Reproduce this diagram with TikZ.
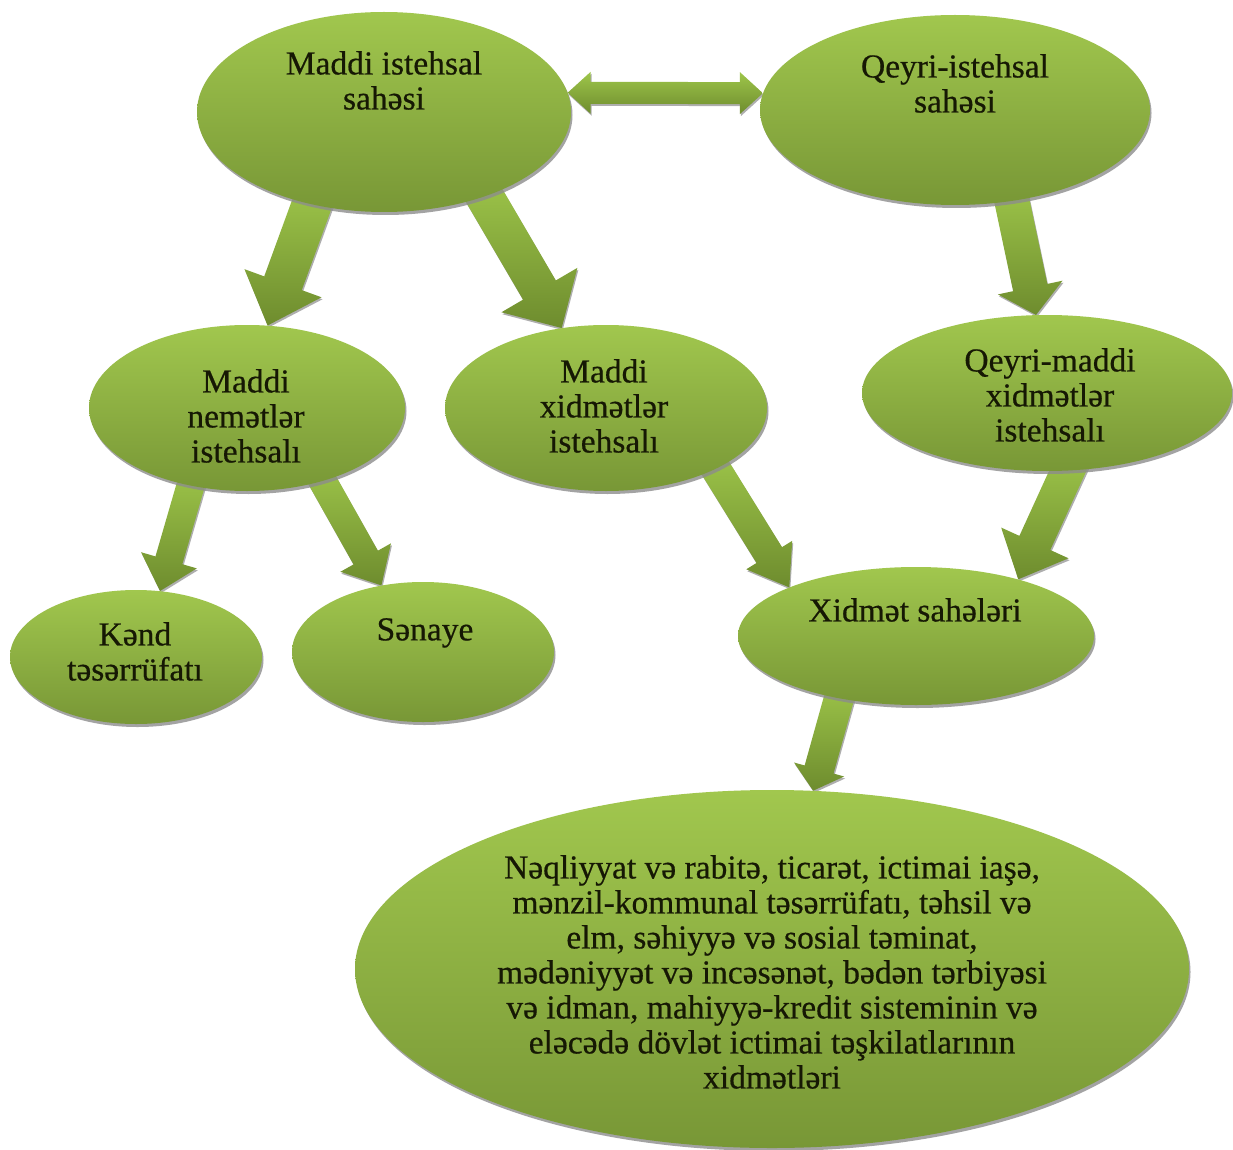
\documentclass[tikz,border=0pt]{standalone}
\usepackage{fontspec}
\setmainfont[FakeBold=0.5]{Liberation Serif}
\newfontfamily\lblfont[FakeBold=0.5]{Liberation Serif}
\usetikzlibrary{shapes.geometric,calc,shadows,backgrounds}
\definecolor{gtop}{RGB}{161,199,78}
\definecolor{gbot}{RGB}{120,151,54}
\definecolor{atop}{RGB}{158,198,74}
\definecolor{abot}{RGB}{110,140,46}
\definecolor{shd}{RGB}{140,140,140}
\definecolor{txtc}{RGB}{22,24,4}
\tikzset{
  ell/.style={ellipse, inner sep=0pt, draw=none, top color=gtop, bottom color=gbot,
    drop shadow={shadow xshift=1.5pt, shadow yshift=-3pt, fill=shd, opacity=0.8}},
  lbl/.style={anchor=north, align=center, inner sep=0pt,
    font=\lblfont\fontsize{33.5}{35}\selectfont, text=txtc},
  arr/.style={top color=atop, bottom color=abot,
    drop shadow={shadow xshift=1pt, shadow yshift=-2pt, fill=shd, opacity=0.7}},
}
% block arrow: #1 from, #2 to, #3 half shaft, #4 half head, #5 head length
\newcommand\barrow[5]{%
  \coordinate (ba-s) at ($(#1)!-15pt!(#2)$);
  \coordinate (ba-t) at (#2);
  \coordinate (ba-c) at ($(ba-t)!#5!(ba-s)$);
  \path[arr] ($(ba-s)!#3!90:(ba-t)$) -- ($(ba-c)!#3!90:(ba-t)$) -- ($(ba-c)!#4!90:(ba-t)$)
    -- (ba-t) -- ($(ba-c)!#4!-90:(ba-t)$) -- ($(ba-c)!#3!-90:(ba-t)$) -- ($(ba-s)!#3!-90:(ba-t)$) -- cycle;
}
% double block arrow
\newcommand\dbarrow[5]{%
  \coordinate (da-a) at (#1);
  \coordinate (da-b) at (#2);
  \coordinate (da-c) at ($(da-a)!#5!(da-b)$);
  \coordinate (da-d) at ($(da-b)!#5!(da-a)$);
  \path[arr] (da-a) -- ($(da-c)!#4!90:(da-b)$) -- ($(da-c)!#3!90:(da-b)$) -- ($(da-d)!#3!-90:(da-a)$)
    -- ($(da-d)!#4!-90:(da-a)$) -- (da-b) -- ($(da-d)!#4!90:(da-a)$) -- ($(da-d)!#3!90:(da-a)$)
    -- ($(da-c)!#3!-90:(da-b)$) -- ($(da-c)!#4!-90:(da-b)$) -- cycle;
}
\begin{document}
\begin{tikzpicture}[x=1pt,y=-1pt]
\useasboundingbox (0,0) rectangle (1233,1150);

% ellipses
\node[ell, minimum width=374pt, minimum height=200pt] (top) at (384,112) {};
\node[ell, minimum width=390pt, minimum height=190pt] (qey) at (955,110) {};
\node[ell, minimum width=316pt, minimum height=166pt] (nem) at (247,408) {};
\node[ell, minimum width=322pt, minimum height=166pt] (mxid) at (606,408) {};
\node[ell, minimum width=370pt, minimum height=156pt] (qmx) at (1047,393) {};
\node[ell, minimum width=252pt, minimum height=134pt] (kend) at (136,657) {};
\node[ell, minimum width=262pt, minimum height=140pt] (sen) at (423,652) {};
\node[ell, minimum width=356pt, minimum height=138pt] (xid) at (916,636) {};
\node[ell, minimum width=834pt, minimum height=358pt] (big) at (772,969) {};

% labels
\node[lbl] (ltop) at (384,51) {Maddi istehsal\\sahəsi};
\node[lbl] (lqey) at (955,54) {Qeyri-istehsal\\sahəsi};
\node[lbl] (lnem) at (246,369) {Maddi\\nemətlər\\istehsalı};
\node[lbl] (lmxid) at (604,359) {Maddi\\xidmətlər\\istehsalı};
\node[lbl] (lqmx) at (1050,348) {Qeyri-maddi\\xidmətlər\\istehsalı};
\node[lbl] (lkend) at (135,622) {Kənd\\təsərrüfatı};
\node[lbl] (lsen) at (425,618) {Sənaye};
\node[lbl] (lxid) at (915,598) {Xidmət sahələri};
\node[lbl] (lbig) at (772,855) {Nəqliyyat və rabitə, ticarət, ictimai iaşə,\\
  mənzil-kommunal təsərrüfatı, təhsil və\\
  elm, səhiyyə və sosial təminat,\\
  mədəniyyət və incəsənət, bədən tərbiyəsi\\
  və idman, mahiyyə-kredit sisteminin və\\
  eləcədə dövlət ictimai təşkilatlarının\\
  xidmətləri};

\begin{pgfonlayer}{background}
  \fill[white] (0,0) rectangle (1233,1150);
  \dbarrow{top.6}{qey.175}{11pt}{21pt}{23pt}
  \barrow{top.232}{nem.76.5}{20pt}{41pt}{45pt}
  \barrow{top.320.4}{mxid.119.6}{19pt}{44pt}{44pt}
  \barrow{qey.302.3}{qmx.98.4}{17.5pt}{33pt}{28pt}
  \barrow{nem.234.5}{kend.70.3}{14pt}{29pt}{32pt}
  \barrow{nem.316.8}{sen.122}{14pt}{29pt}{32pt}
  \barrow{mxid.331.9}{xid.159}{15pt}{27pt}{38pt}
  \barrow{qmx.285.1}{xid.29.6}{17pt}{37pt}{40pt}
  \barrow{xid.219.6}{big.77.1}{15pt}{26pt}{22pt}
\end{pgfonlayer}
\end{tikzpicture}
\end{document}
